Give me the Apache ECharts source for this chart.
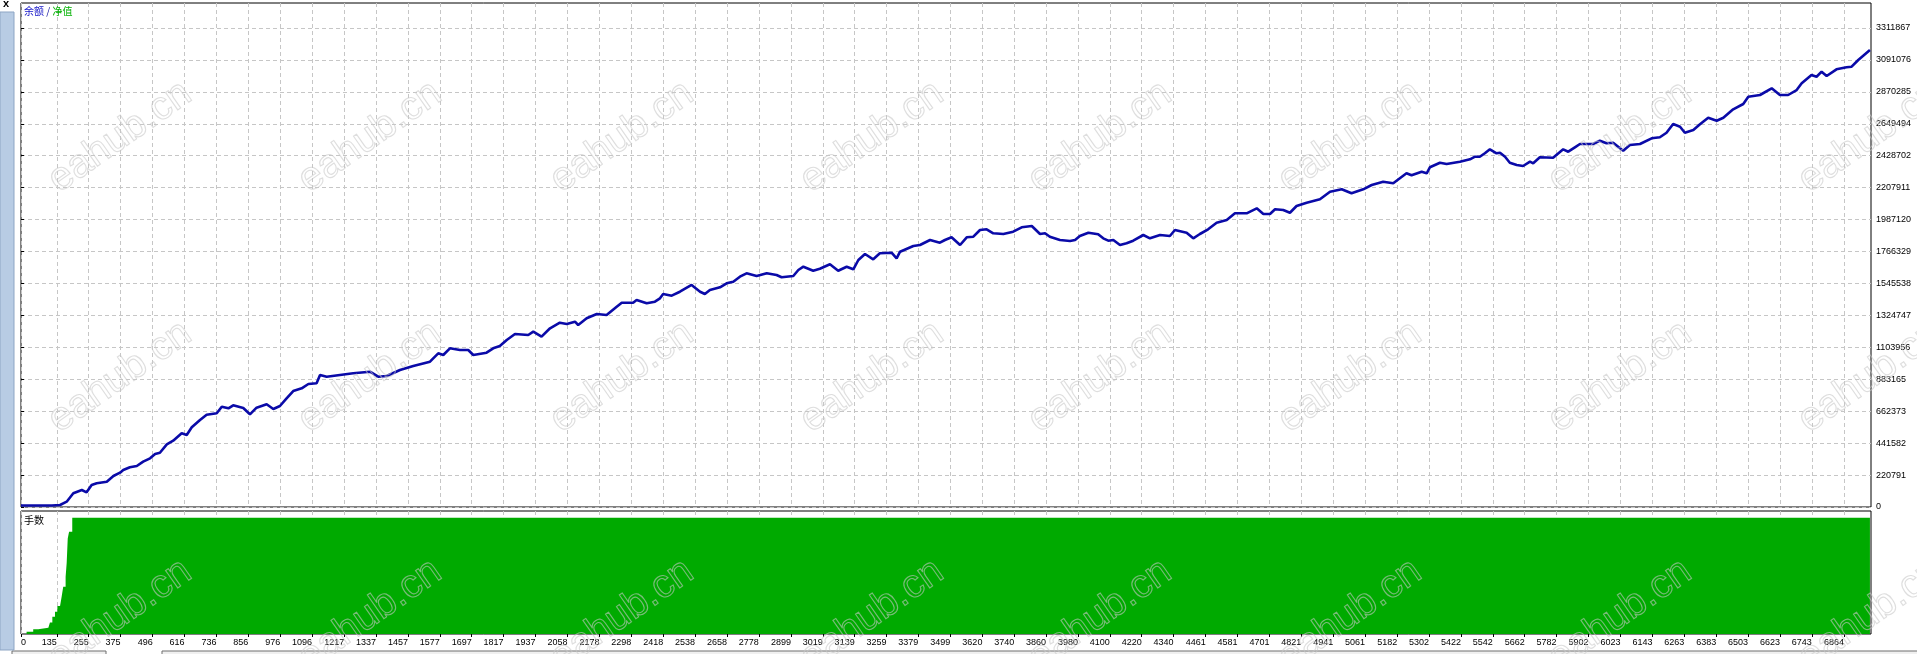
<!DOCTYPE html>
<html><head><meta charset="utf-8">
<script src="https://cdn.jsdelivr.net/npm/echarts@6/dist/echarts.min.js"></script>
<style>html,body{margin:0;padding:0;background:#fff;overflow:hidden}#c{width:1917px;height:654px}</style>
</head><body><div id="c"></div>
<script>
// ---- data ----
const xTickLabels = [0,135,255,375,496,616,736,856,976,1096,1217,1337,1457,1577,1697,1817,1937,2058,2178,2298,2418,2538,2658,2778,2899,3019,3139,3259,3379,3499,3620,3740,3860,3980,4100,4220,4340,4461,4581,4701,4821,4941,5061,5182,5302,5422,5542,5662,5782,5902,6023,6143,6263,6383,6503,6623,6743,6864];
const yTickLabels = [0,220791,441582,662373,883165,1103956,1324747,1545538,1766329,1987120,2207911,2428702,2649494,2870285,3091076,3311867];

const balanceTrades = [0,116,147,172,197,229,247,266,285,323,348,373,385,410,436,460,486,505,523,549,573,605,624,643,674,699,737,756,781,799,837,862,887,925,950,975,1000,1025,1057,1082,1113,1126,1151,1201,1251,1314,1345,1377,1427,1477,1540,1571,1590,1615,1653,1684,1703,1753,1778,1803,
1829,1860,1910,1929,1960,1992,2029,2055,2086,2098,2130,2168,2205,2243,2262,2305,2318,2356,2387,2406,2418,2450,2481,2525,2557,2575,2594,2632,2657,2682,2707,2732,2770,2808,2845,2864,2908,2927,2946,2983,3008,3046,3077,3109,3134,3153,3178,3209,3234,3278,3297,3310,3360,3385,3423,3460,3479,3504,3536,3561,3586,3611,
3636,3661,3699,3736,3768,3806,3837,3856,3874,3912,3950,3969,3987,4019,4056,4075,4094,4113,4138,4163,4188,4226,4251,4289,4326,4345,4389,4414,4439,4470,4502,4540,4571,4615,4653,4678,4703,4722,4753,4778,4803,4841,4891,4929,4973,5010,5054,5086,5129,5167,5192,5217,5236,5274,5293,5305,5343,5368,5418,
5456,5475,5493,5512,5531,5556,5569,5588,5606,5632,5656,5682,5694,5719,5769,5807,5826,5851,5870,5920,5945,5970,5995,6033,6058,6096,6140,6171,6196,6221,6247,6265,6297,6322,6353,6385,6410,6447,6485,6504,6548,6592,6623,6654,6686,6705,6742,6761,6780,6799,6836,6874,6893,6918,6962];
const balanceValues = [10000,10000,14000,36600,94700,117500,101600,152100,163900,174900,214300,237200,255800,274500,283500,313200,336700,366500,375400,433500,458400,509600,497800,551100,601500,638200,647900,693500,682400,703200,684500,640900,686600,710100,677600,698300,751600,802000,820700,850400,855300,912700,900900,912700,924400,935500,900900,905800,947200,974900,1004600,1062700,1051000,1097300,1085500,1085500,1051000,1066900,1097300,1113200,
1154700,1196200,1189200,1212100,1177500,1235600,1274300,1265300,1281200,1258400,1304700,1334400,1327500,1384900,1412600,1412600,1431200,1408400,1419500,1443000,1472700,1461000,1488600,1535000,1488600,1472700,1500400,1519000,1546700,1557800,1592300,1615800,1597200,1615800,1604100,1588200,1597200,1638700,1661500,1633800,1647700,1678100,1633800,1661500,1643500,1707800,1749300,1712600,1754100,1758300,1719600,1765200,1804600,1811500,1846100,1827400,1846100,1864800,1811500,1864800,1868900,1915200,
1920100,1892400,1887600,1903500,1933900,1942900,1887600,1892400,1868900,1846100,1839200,1846100,1873700,1896600,1885500,1857800,1841300,1846100,1811500,1823300,1841300,1880700,1857800,1880700,1873700,1915200,1896600,1857800,1887600,1920100,1965700,1984400,2030700,2030700,2065300,2025900,2025900,2058400,2053500,2034800,2081200,2104000,2127500,2180000,2196600,2169000,2196600,2226400,2249200,2238100,2272700,2307300,2293400,2318300,2307300,2348800,2380600,2371600,2387500,
2404100,2422000,2422000,2445600,2473200,2445600,2449700,2422000,2380600,2364700,2357700,2387500,2376400,2417900,2415100,2473200,2456600,2487000,2509900,2509900,2532700,2514700,2518800,2463500,2502900,2509900,2549300,2556200,2588000,2648100,2629500,2588000,2606700,2646100,2691700,2671000,2691700,2749800,2786400,2836900,2848700,2895000,2848700,2848700,2883200,2929500,2986900,2975200,3009800,2980000,3026300,3040200,3044300,3090600,3159800];

const lotTrades = [21,46,65,103,109,118,128,137,147,153,159,168,172,176,181,193,6962];
const lotValues = [1.0,2.0,2.7,3.4,4.9,7.4,9.6,12.0,12.5,16.0,20.3,24.6,30.5,41.1,44.0,50,50];

const titleBalance = '余额';
const titleEquity = '净值';
const titleLots = '手数';
const watermarkText = 'eahub.cn';

// ---- chart ----
const X_MAX = 6966, Y_MAX = 3484800, LOT_MAX = 52.9;
const font = 'Liberation Sans, Arial, sans-serif';
const cjk = 'Noto Sans CJK SC, sans-serif';
const gridLine = {show:true, lineStyle:{color:'#c6c6c6', type:[4,3], width:1}};
const plain = v => String(Math.round(v));

const balanceData = balanceTrades.map((t,i)=>[t, balanceValues[i]]);
const lotData = lotTrades.map((t,i)=>[t, lotValues[i]]);

const wmCols = [120,370,622,872,1100,1350,1620,1870];
const wmRows = [137,377,615];
const watermarks = [];
wmRows.forEach(y=>wmCols.forEach(x=>{
  watermarks.push({type:'text', x:x, y:y, rotation:35*Math.PI/180, z:100, silent:true,
    style:{text:watermarkText, font:'40px Liberation Sans, Arial, sans-serif', fill:'rgba(255,255,255,0)',
      stroke:'rgba(200,200,200,0.6)', lineWidth:1.1, align:'center', verticalAlign:'middle'}});
}));

const chart = echarts.init(document.getElementById('c'), null, {renderer:'canvas'});
chart.setOption({
  animation:false,
  backgroundColor:'#ffffff',
  grid:[
    {left:21, right:46, top:3, height:504, show:true, borderColor:'#000', borderWidth:1, backgroundColor:'#fff'},
    {left:21, right:46, top:511, height:123, show:true, borderColor:'#000', borderWidth:1, backgroundColor:'#fff'}
  ],
  xAxis:[
    {type:'value', gridIndex:0, min:0, max:X_MAX, axisLine:{show:false},
     axisTick:{show:false, customValues:xTickLabels}, axisLabel:{show:false}, splitLine:gridLine},
    {type:'value', gridIndex:1, min:0, max:X_MAX, axisLine:{show:false},
     axisTick:{show:true, customValues:xTickLabels, length:3, lineStyle:{color:'#000'}},
     axisLabel:{customValues:xTickLabels, formatter:plain, align:'right', alignMinLabel:'left', fontSize:9, color:'#000', fontFamily:font, margin:4},
     splitLine:gridLine}
  ],
  yAxis:[
    {type:'value', gridIndex:0, position:'right', min:0, max:Y_MAX, axisLine:{show:false},
     axisTick:{show:true, customValues:yTickLabels, length:3, lineStyle:{color:'#000'}},
     axisLabel:{customValues:yTickLabels, formatter:plain, fontSize:9, color:'#000', fontFamily:font, margin:5, align:'left'},
     splitLine:gridLine},
    {type:'value', gridIndex:1, min:0, max:LOT_MAX, show:false, splitLine:{show:false}}
  ],
  series:[
    {name:titleLots, type:'line', xAxisIndex:1, yAxisIndex:1, data:lotData, step:'end', symbol:'none',
     lineStyle:{width:0, color:'#00aa00'}, areaStyle:{color:'#00aa00', opacity:1}, z:2},
    {name:titleBalance, type:'line', xAxisIndex:0, yAxisIndex:0, data:balanceData, symbol:'none',
     lineStyle:{width:2.6, color:'#0a0aa8'}, z:3}
  ],
  graphic:[
    {type:'rect', shape:{x:0,y:12,width:14,height:638}, style:{fill:'#b8cce4', stroke:'#8da5c4', lineWidth:1}, z:1, silent:true},
    {type:'text', x:3, y:-2, style:{text:'x', font:'bold 11px Liberation Sans, Arial, sans-serif', fill:'#000'}, silent:true},
    {type:'rect', shape:{x:12,y:651,width:94,height:6}, style:{fill:'#f0f0f0', stroke:'#6e6e6e', lineWidth:1}, silent:true},
    {type:'rect', shape:{x:162,y:651,width:1760,height:6}, style:{fill:'#f0f0f0', stroke:'#6e6e6e', lineWidth:1}, silent:true},
    {type:'text', x:24, y:6, z:50, style:{text:'{b|'+titleBalance+'} {s|/} {g|'+titleEquity+'}', font:'10px '+cjk,
      rich:{b:{fill:'#1414c8', font:'10px '+cjk}, s:{fill:'#1414a0', font:'10px '+cjk}, g:{fill:'#00b000', font:'10px '+cjk}}}, silent:true},
    {type:'text', x:24, y:515, z:50, style:{text:titleLots, font:'10px '+cjk, fill:'#000'}, silent:true}
  ].concat(watermarks)
});
</script></body></html>
